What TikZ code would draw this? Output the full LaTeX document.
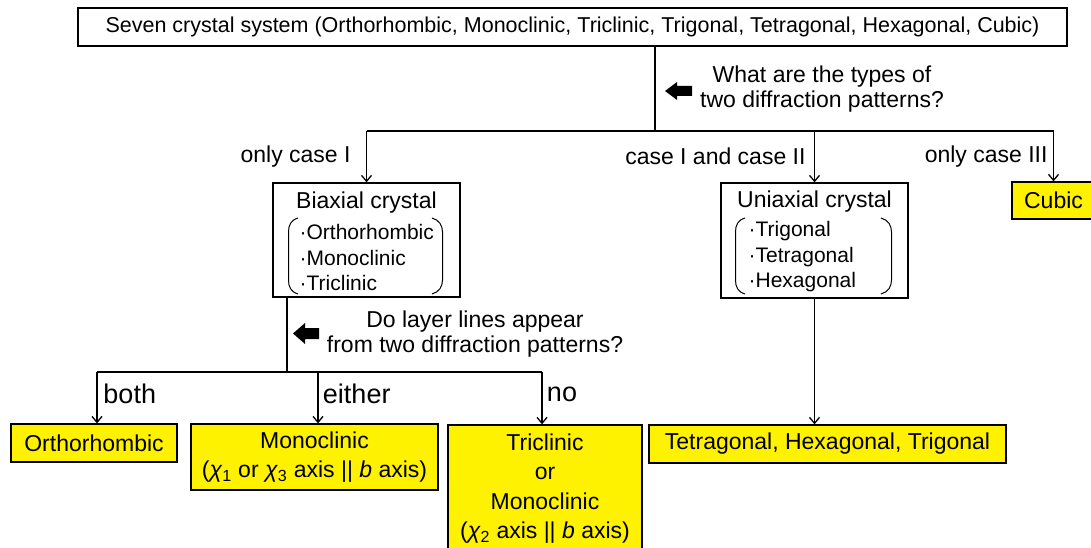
\documentclass[tikz,border=0pt]{standalone}
\usepackage{fontspec}
\setmainfont{Liberation Sans}
\usetikzlibrary{arrows.meta,positioning}

\newcommand\fsmain{\fontsize{23}{29.5}\selectfont}
\newcommand\fstitle{\fontsize{21.5}{26}\selectfont}
\newcommand\fsitem{\fontsize{21}{25.5}\selectfont}
\newcommand\fsbranch{\fontsize{27}{32}\selectfont}

\begin{document}
\begin{tikzpicture}[x=1pt,y=-1pt,>={Straight Barb[length=6pt,width=10pt]},line width=1.3pt,
        box/.style={draw,inner sep=0pt,align=center,font=\fsmain},
        result/.style={box,fill=yellow},
        head/.style={font=\fsmain},
        items/.style={anchor=west,align=left,inner sep=0pt,font=\fsitem},
        question/.style={align=center,font=\fontsize{23}{25.5}\selectfont},
        paren/.style={line width=1pt},
        pointer/.style={fill=black,draw=none}]

        \useasboundingbox (0,0) rectangle (1091,548);

        % the seven systems
        \node[box,minimum width=989pt,minimum height=38pt,font=\fstitle] (sys) at (572.5,27)
            {Seven crystal system (Orthorhombic, Monoclinic, Triclinic, Trigonal, Tetragonal, Hexagonal, Cubic)};

        % second level
        \node[box,minimum width=187pt,minimum height=114pt] (biax) at (366.5,240) {};
        \node[box,minimum width=187pt,minimum height=115pt] (uniax) at (814.5,240.5) {};
        \node[result,minimum width=83pt,minimum height=37pt] (cubic) at (1053.5,200.5) {Cubic};

        \node[head] (biaxhead) at (366.5,203) {Biaxial crystal};
        \node[items] (biaxlist) at (299,257.5) {·Orthorhombic\\·Monoclinic\\·Triclinic};
        \node[head] (uniaxhead) at (814.5,202) {Uniaxial crystal};
        \node[items] (uniaxlist) at (748,257) {·Trigonal\\·Tetragonal\\·Hexagonal};

        \draw[paren] (298,218) .. controls (291,220) and (288.5,225) .. (288.5,232) -- (288.5,280)
            .. controls (288.5,287) and (291,292) .. (298,294);
        \draw[paren] (432,218) .. controls (439,220) and (442.5,225) .. (442.5,232) -- (442.5,280)
            .. controls (442.5,287) and (439,292) .. (432,294);
        \draw[paren] (745,218) .. controls (738,220) and (735.5,225) .. (735.5,232) -- (735.5,280)
            .. controls (735.5,287) and (738,292) .. (745,294);
        \draw[paren] (881,218) .. controls (888,220) and (891.5,225) .. (891.5,232) -- (891.5,280)
            .. controls (891.5,287) and (888,292) .. (881,294);

        % last level
        \node[result,minimum width=166pt,minimum height=38pt] (ortho) at (94,443) {Orthorhombic};
        \node[result,minimum width=247pt,minimum height=66pt] (mono) at (314.5,457)
            {Monoclinic\\(\textit{χ}\textsubscript{1} or \textit{χ}\textsubscript{3} axis || \textit{b} axis)};
        \node[result,minimum width=194pt,minimum height=127pt] (tric) at (545,488.5)
            {Triclinic\\or\\Monoclinic\\(\textit{χ}\textsubscript{2} axis || \textit{b} axis)};
        \node[result,minimum width=357pt,minimum height=38pt] (tht) at (827.5,444)
            {Tetragonal, Hexagonal, Trigonal};

        % first question
        \coordinate (t0) at (655,131);
        \coordinate (b1) at (biax.north |- t0);
        \coordinate (b2) at (uniax.north |- t0);
        \coordinate (b3) at (cubic.north |- t0);
        \draw (sys.south -| t0) -- (t0);
        \draw (b1) -- (b3);
        \fill[pointer] (665,91) -- (677,82) -- (677,86) -- (692,86) -- (692,96) -- (677,96) -- (677,100) -- cycle;
        \node[question] (q1) at (822,89) {What are the types of\\two diffraction patterns?};

        \path[->,every node/.style={font=\fsmain}]
        (b1) edge node [left=12pt] {only case I} (biax.north)
        (b2) edge node [left=5pt] {case I and case II} (uniax.north)
        (b3) edge node [left=2pt] {only case III} (cubic.north);

        % second question
        \coordinate (t1) at (287,372);
        \coordinate (c1) at (97,372);
        \coordinate (c2) at (318,372);
        \coordinate (c3) at (542,372);
        \draw (biax.south -| t1) -- (t1);
        \draw (c1) -- (c3);
        \fill[pointer] (293,333.5) -- (305,323) -- (305,328) -- (319,328) -- (319,339) -- (305,339) -- (305,344) -- cycle;
        \node[question] (q2) at (475,334) {Do layer lines appear\\from two diffraction patterns?};

        \path[->,every node/.style={font=\fsbranch}]
        (c1) edge node [pos=0.42,right=2.5pt] {both} (c1 |- ortho.north)
        (c2) edge node [pos=0.42,right=1pt] {either} (c2 |- mono.north)
        (c3) edge node [pos=0.42,right=1pt] {no} (c3 |- tric.north)
        (uniax.south) edge (uniax.south |- tht.north);

    \end{tikzpicture}
\end{document}
